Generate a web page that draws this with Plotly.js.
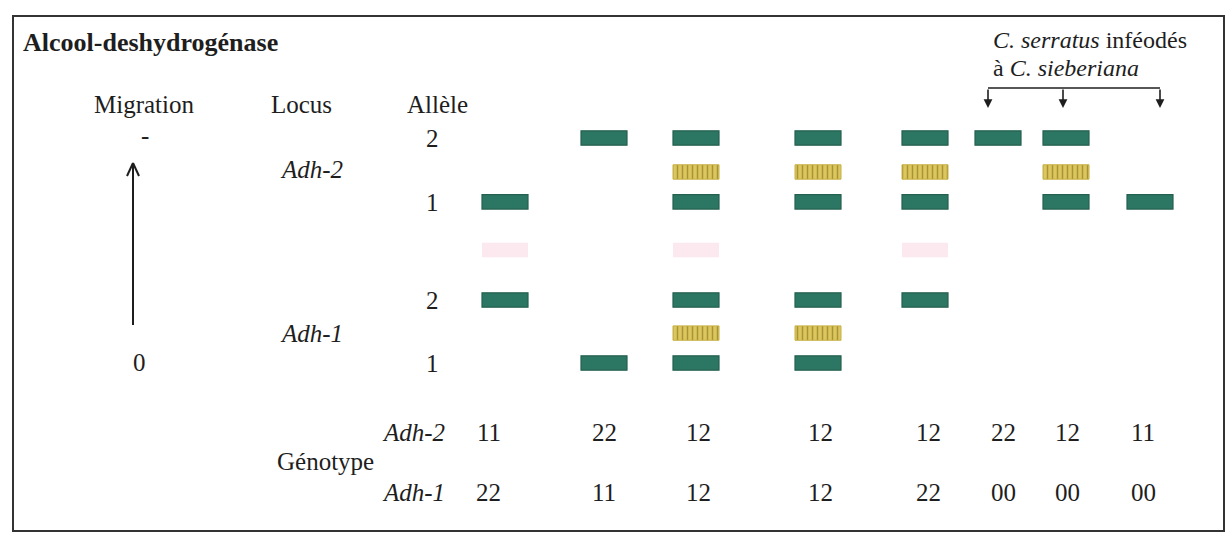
<!DOCTYPE html>
<html>
<head>
<meta charset="utf-8">
<script src="https://cdn.plot.ly/plotly-3.0.1.min.js"></script>
<style>html,body{margin:0;padding:0;background:#fff}#chart{width:1232px;height:539px}</style>
</head>
<body>
<div id="chart"></div>
<script>
// ---------------- DATA ----------------
const lanes = [1, 2, 3, 4, 5, 6, 7, 8];
const adh2Genotype = ['11', '22', '12', '12', '12', '22', '12', '11'];
const adh1Genotype = ['22', '11', '12', '12', '22', '00', '00', '00'];
// relative migration (0 = origin, 1 = fastest band "-")
const adh2Mobility = [0.716, 0.849, 1.0];   // allele 1, heterodimer, allele 2
const adh1Mobility = [0.0, 0.133, 0.28];    // allele 1, heterodimer, allele 2
const faintLanes = [1, 3, 5];
const faintMobility = [0.502];
const groupLanes = [6, 7, 8];               // C. serratus inféodés à C. sieberiana

// ---------------- LAYOUT HELPERS ----------------
const W = 1232, H = 539;
const laneX = [505, 604, 696, 818, 925, 998, 1066, 1150];
const labelX = [489, 604, 698, 820, 928, 1003, 1067, 1143];
const bracketX = [988, 1063, 1160];
const bandW = 46, bandH = 0.064;
const P = y => 1 - y / H;           // pixel row -> paper
const FONT = 'Liberation Serif';
const INK = '#1e1e1e';
const FS = 25;

function bandsFor(genos, mob) {
  const green = {x: [], m: []}, yellow = {x: [], m: []};
  genos.forEach((g, i) => {
    const a = +g[0], b = +g[1];
    if (a === 0) return;
    const set = new Set([a, b]);
    set.forEach(al => { green.x.push(laneX[lanes[i] - 1]); green.m.push(mob[al === 1 ? 0 : 2]); });
    if (a !== b) { yellow.x.push(laneX[lanes[i] - 1]); yellow.m.push(mob[1]); }
  });
  return {green, yellow};
}
const b2 = bandsFor(adh2Genotype, adh2Mobility);
const b1 = bandsFor(adh1Genotype, adh1Mobility);
const gx = b2.green.x.concat(b1.green.x), gm = b2.green.m.concat(b1.green.m);
const yx = b2.yellow.x.concat(b1.yellow.x), ym = b2.yellow.m.concat(b1.yellow.m);
const px = faintLanes.map(l => laneX[l - 1]), pm = faintLanes.map(() => faintMobility[0]);

function barTrace(xs, ms, color, line, pattern) {
  const t = {
    type: 'bar', x: xs, y: ms.map(() => bandH), base: ms.map(m => m - bandH / 2),
    width: xs.map(() => bandW), hoverinfo: 'skip',
    marker: {color: color, line: line}
  };
  if (pattern) t.marker.pattern = pattern;
  return t;
}
const data = [
  barTrace(px, pm, 'rgba(245,185,205,0.32)', {width: 0}),
  barTrace(gx, gm, '#2c7664', {color: '#25614f', width: 1.2}),
  barTrace(yx, ym, '#a89434', {color: '#c8b045', width: 1},
           {shape: '|', fgcolor: '#a89434', bgcolor: '#dcc65e', size: 5, solidity: 0.3})
];

// ---------------- TEXT ----------------
const ann = [];
function txt(text, x, y, opts) {
  ann.push(Object.assign({text: text, x: x / W, y: P(y), xref: 'paper', yref: 'paper',
    showarrow: false, xanchor: 'center', yanchor: 'middle',
    font: {family: FONT, size: FS, color: INK}}, opts || {}));
}
txt('<b>Alcool-deshydrogénase</b>', 21, 42, {xanchor: 'left', font: {family: FONT, size: 26, color: INK}});
txt('<i>C. serratus</i> inféodés', 991, 40, {xanchor: 'left', font: {family: FONT, size: 24, color: INK}});
txt('à <i>C. sieberiana</i>', 991, 68, {xanchor: 'left', font: {family: FONT, size: 24, color: INK}});
txt('Migration', 144, 105);
txt('Locus', 301, 105);
txt('Allèle', 437, 104);
txt('-', 145, 136);
txt('0', 139, 362);
txt('<i>Adh-2</i>', 311, 170);
txt('<i>Adh-1</i>', 311, 333);
txt('2', 432, 138); txt('1', 432, 202);
txt('2', 432, 300); txt('1', 432, 363);
txt('<i>Adh-2</i>', 413, 432);
txt('Génotype', 325, 461);
txt('<i>Adh-1</i>', 413, 492);
adh2Genotype.forEach((g, i) => txt(g, labelX[i], 432));
adh1Genotype.forEach((g, i) => txt(g, labelX[i], 492));

// bracket arrows for the C. sieberiana group
groupLanes.forEach((l, k) => ann.push({x: bracketX[k] / W, y: P(108), xref: 'paper', yref: 'paper', text: '',
  showarrow: true, ax: 0, ay: -20, arrowhead: 2, arrowsize: 1.1, arrowwidth: 1.6, arrowcolor: INK}));

const line = {color: INK, width: 2};
const shapes = [
  {type: 'rect', xref: 'paper', yref: 'paper', x0: 13 / W, x1: 1224 / W, y0: P(531), y1: P(16),
   line: {color: '#333', width: 2}},
  {type: 'line', xref: 'paper', yref: 'paper', x0: bracketX[0] / W, x1: bracketX[2] / W, y0: P(88), y1: P(88), line: {color: INK, width: 1.6}},
  {type: 'line', xref: 'paper', yref: 'paper', x0: 133 / W, x1: 133 / W, y0: P(325), y1: P(164), line: line},
  {type: 'line', xref: 'paper', yref: 'paper', x0: 133 / W, x1: 127 / W, y0: P(163), y1: P(176), line: line},
  {type: 'line', xref: 'paper', yref: 'paper', x0: 133 / W, x1: 139 / W, y0: P(163), y1: P(176), line: line}
];

const layout = {
  width: W, height: H, margin: {l: 0, r: 0, t: 0, b: 0},
  paper_bgcolor: '#fff', plot_bgcolor: '#fff', showlegend: false, barmode: 'overlay',
  xaxis: {range: [0, W], visible: false, fixedrange: true},
  yaxis: {range: [(363 - H) / 225, 363 / 225], visible: false, fixedrange: true},
  annotations: ann, shapes: shapes
};
Plotly.newPlot('chart', data, layout, {staticPlot: true});
</script>
</body>
</html>
